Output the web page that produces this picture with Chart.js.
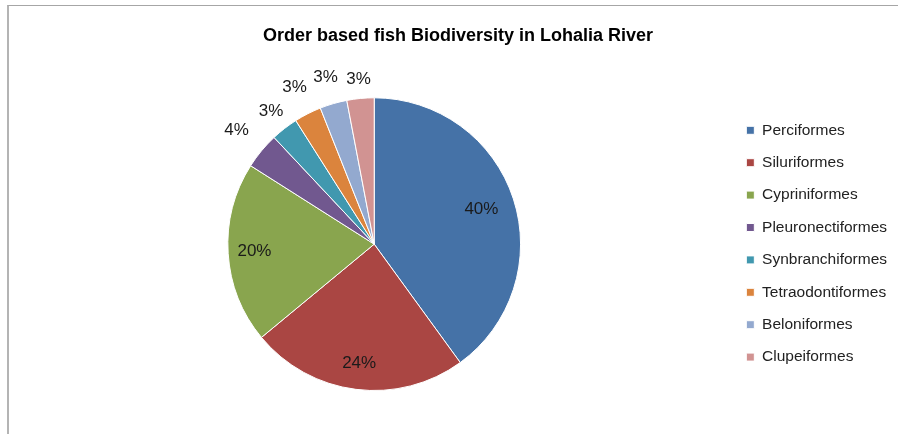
<!DOCTYPE html>
<html>
<head>
<meta charset="utf-8">
<script src="https://cdn.jsdelivr.net/npm/chart.js@4"></script>
<style>
  html, body { margin: 0; padding: 0; background: #fff; overflow: hidden; }
  body { width: 898px; height: 434px; position: relative; }
  .frame {
    position: absolute; left: 7px; top: 5px; width: 900px; height: 440px;
    border-top: 1px solid #a6a6a6; border-left: 2px solid #b4b4b4;
  }
  .chart-box { position: absolute; left: 8px; top: 6px; width: 900px; height: 428px; }
</style>
</head>
<body>
<div class="frame"></div>
<div class="chart-box"><canvas id="pieChart"></canvas></div>
<script>
const orders = [
  "Perciformes",
  "Siluriformes",
  "Cypriniformes",
  "Pleuronectiformes",
  "Synbranchiformes",
  "Tetraodontiformes",
  "Beloniformes",
  "Clupeiformes",
];
const percents = [40, 24, 20, 4, 3, 3, 3, 3];
const colors = ["#4572A7", "#AA4643", "#89A54E", "#71588F", "#4198AF", "#DB843D", "#93A9CF", "#D19392"];

// percent labels, big slices inside, small ones outside (Excel "best fit" look)
const pctLabels = {
  id: "pctLabels",
  afterDatasetsDraw(chart, args, opts) {
    const ctx = chart.ctx;
    const meta = chart.getDatasetMeta(0);
    ctx.save();
    ctx.font = "17px 'Liberation Sans', Arial, sans-serif";
    ctx.fillStyle = "#1a1a1a";
    ctx.textAlign = "center";
    ctx.textBaseline = "middle";
    meta.data.forEach((arc, i) => {
      const mid = (arc.startAngle + arc.endAngle) / 2;
      const r = arc.outerRadius;
      const d = r * opts.dist[i];
      const x = arc.x + Math.cos(mid) * d;
      const y = arc.y + Math.sin(mid) * d;
      ctx.fillText(percents[i] + "%", x, y);
    });
    ctx.restore();
  },
};

const ctx = document.getElementById("pieChart").getContext("2d");
new Chart(ctx, {
  type: "pie",
  data: {
    labels: orders,
    datasets: [
      {
        data: percents,
        backgroundColor: colors,
        borderColor: "#ffffff",
        borderWidth: 1,
      },
    ],
  },
  options: {
    responsive: true,
    maintainAspectRatio: false,
    animation: false,
    layout: { padding: { left: 11, right: 11, top: 0, bottom: 43 } },
    plugins: {
      title: {
        display: true,
        text: "Order based fish Biodiversity in Lohalia River",
        color: "#000",
        font: { family: "'Liberation Sans', Arial, sans-serif", size: 18, weight: "bold" },
        padding: { top: 19.5, bottom: 50.2 },
      },
      legend: {
        position: "right",
        title: { display: true, text: " ", padding: { top: 38, bottom: 38 }, font: { size: 12 } },
        labels: {
          boxWidth: 8,
          boxHeight: 8,
          padding: 16.9,
          color: "#222",
          font: { family: "'Liberation Sans', Arial, sans-serif", size: 15.5 },
        },
      },
      tooltip: { enabled: false },
      pctLabels: { dist: [0.77, 0.82, 0.82, 1.22, 1.15, 1.2, 1.19, 1.13] },
    },
  },
  plugins: [pctLabels],
});
</script>
</body>
</html>
